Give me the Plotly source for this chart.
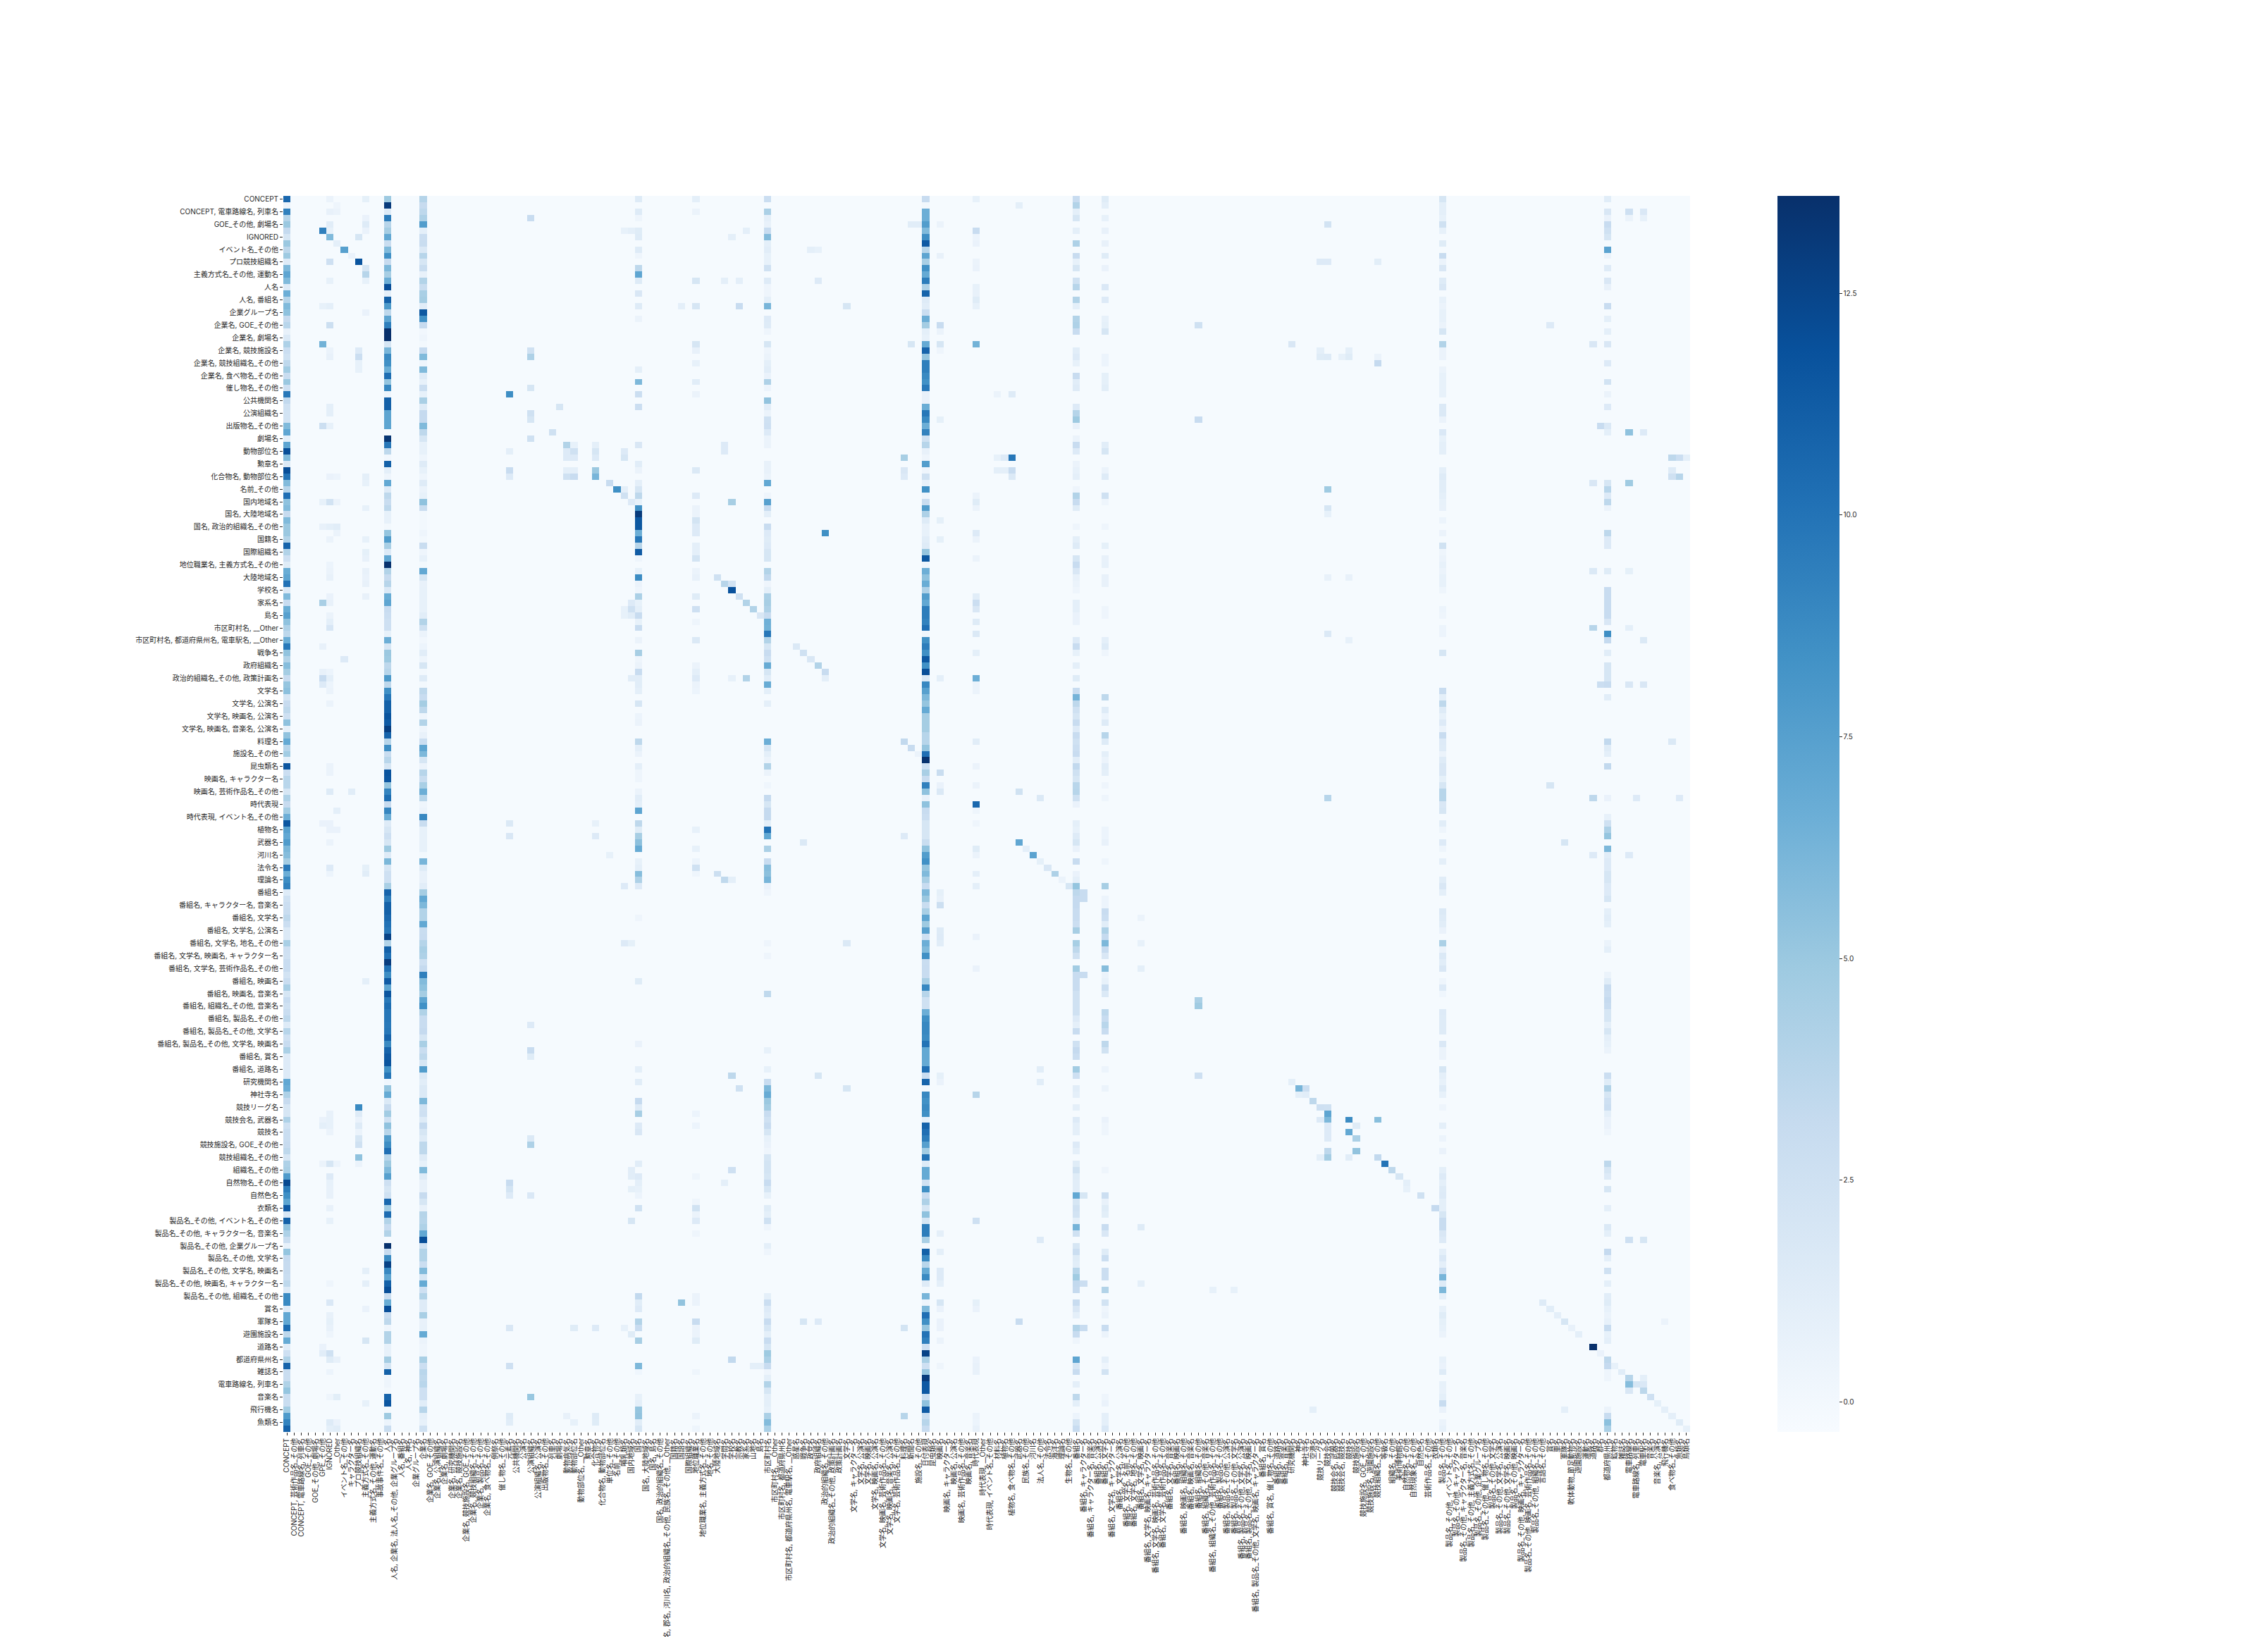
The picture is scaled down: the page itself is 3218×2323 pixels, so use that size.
import plotly.graph_objects as go

categories = [
"CONCEPT","CONCEPT, 芸術作品名_その他","CONCEPT, 電車路線名, 列車名","GOE_その他","GOE_その他, 劇場名","GPE_その他","IGNORED","__Other","イベント名_その他","キャラクター名",
"プロ競技組織名","主義方式名_その他","主義方式名_その他, 運動名","事故事件名_その他","人名","人名, 企業名, 法人名_その他, 企業グループ名","人名, 番組名","人名, 神名","企業グループ名","企業名",
"企業名, GOE_その他","企業名, 公演組織名","企業名, 劇場名","企業名, 研究機関名","企業名, 競技施設名","企業名, 競技施設名, GOE_その他","企業名, 競技組織名_その他","企業名, 製品名_その他","企業名, 食べ物名_その他","例祭名",
"催し物名_その他","元素名","公共機関名","公演名","公演組織名","公演組織名, 公演名","出版物名_その他","列車名","劇場名","動物病気名",
"動物部位名","動物部位名, __Other","勲章名","化合物名","化合物名, 動物部位名","単位名_その他","名前_その他","哺乳類名","国内地域名","国名",
"国名, 大陸地域名","国名, 島名","国名, 政治的組織名_その他","国名, 郡名, 河川名, 政治的組織名_その他, 民族名_その他, __Other","国籍名","国語名","国際組織名","地位職業名","地位職業名, 主義方式名_その他","地名_その他",
"大陸地域名","学問名","学校名","宗教名","家系名","山地名","島名","市区町村名","市区町村名, __Other","市区町村名, 都道府県州名",
"市区町村名, 都道府県州名, 電車駅名, __Other","惑星名","戦争名","政党名","政府組織名","政治的組織名_その他","政治的組織名_その他, 政策計画名","政策計画名","文学名","文学名, キャラクター名",
"文学名, 公演名","文学名, 映画名","文学名, 映画名, 公演名","文学名, 映画名, 芸術作品名_その他","文学名, 映画名, 音楽名, 公演名","文学名, 芸術作品名_その他","料理名","新聞名","施設名_その他","日付表現",
"昆虫類名","映画名","映画名, キャラクター名","映画名, 公演名","映画名, 芸術作品名_その他","映画名, 音楽名","時代表現","時代表現, __Other","時代表現, イベント名_その他","材料名",
"植物名","植物名, 食べ物名_その他","武器名","民族名_その他","河川名","法人名_その他","法令名","海洋名","理論名","生物名_その他",
"番組名","番組名, キャラクター名","番組名, キャラクター名, 音楽名","番組名, 公演名","番組名, 文学名","番組名, 文学名, キャラクター名","番組名, 文学名, 公演名","番組名, 文学名, 名前_その他","番組名, 文学名, 地名_その他","番組名, 文学名, 映画名",
"番組名, 文学名, 映画名, キャラクター名","番組名, 文学名, 映画名, 芸術作品名_その他","番組名, 文学名, 芸術作品名_その他","番組名, 文学名, 音楽名","番組名, 映画名","番組名, 映画名, 組織名_その他","番組名, 映画名, 音楽名","番組名, 組織名_その他","番組名, 組織名_その他, 音楽名","番組名, 組織名_その他, 芸術作品名_その他",
"番組名, 製品名_その他","番組名, 製品名_その他, 公演名","番組名, 製品名_その他, 文学名","番組名, 製品名_その他, 文学名, 公演名","番組名, 製品名_その他, 文学名, 映画名","番組名, 製品名_その他, 文学名, 映画名, キャラクター名","番組名, 賞名","番組名, 賞名, 催し物名_その他","番組名, 道路名","番組名, 音楽名",
"研究機関名","神名","神社寺名","空港名","競技リーグ名","競技会名","競技会名, 武器名","競技会名, 競技名","競技名","競技施設名",
"競技施設名, GOE_その他","競技施設名, 遊園施設名","競技組織名_その他","等級名","組織名_その他","美術博物館名","自然物名_その他","自然現象名_その他","自然色名","芸術作品名_その他",
"衣類名","製品名_その他","製品名_その他, イベント名_その他","製品名_その他, キャラクター名","製品名_その他, キャラクター名, 音楽名","製品名_その他, 主義方式名_その他","製品名_その他, 企業グループ名","製品名_その他, 催し物名_その他","製品名_その他, 文学名","製品名_その他, 文学名, 公演名",
"製品名_その他, 文学名, 映画名","製品名_その他, 映画名","製品名_その他, 映画名, キャラクター名","製品名_その他, 映画名, 芸術作品名_その他","製品名_その他, 組織名_その他","言語名_その他","賞名","車名","軍隊名","軟体動物_節足動物名",
"遊園施設名","運動名","道路名","郡名","都道府県州名","鉱物名","雑誌名","電車路線名","電車路線名, 列車名","電車駅名",
"音楽名","音楽名, 公演名","飛行機名","食べ物名_その他","魚類名","鳥類名"]

col_0 = [10.6,0.5,9.3,3.9,5.0,3.2,2.0,5.0,3.6,4.9,1.4,6.0,7.2,5.9,1.4,6.6,3.9,5.9,5.4,3.1,
3.7,0.7,1.6,4.2,2.8,2.4,3.5,4.7,2.9,5.0,2.6,9.8,3.3,2.5,2.3,2.3,5.9,7.1,1.0,7.2,
12.0,5.9,1.6,12.0,10.0,5.8,3.8,10.2,5.4,5.8,3.1,5.9,5.0,5.0,4.0,10.8,4.0,2.6,1.3,6.7,
7.2,10.1,1.6,5.9,3.0,6.7,7.5,5.4,4.2,3.5,6.6,9.7,5.3,4.0,5.7,4.6,3.1,5.2,5.5,2.0,
3.1,3.5,2.6,5.4,0.9,5.3,6.9,3.8,4.7,1.0,11.6,2.8,3.7,3.7,2.0,4.2,3.1,4.7,6.6,11.6,
7.5,7.0,7.8,6.1,5.7,4.6,9.7,6.6,8.6,9.2,1.4,2.5,2.8,2.9,3.5,2.8,1.6,1.6,4.4,2.6,
2.5,3.0,3.0,2.3,2.9,4.4,2.0,3.0,2.5,2.9,3.5,1.4,3.8,2.5,3.0,4.3,1.5,1.5,1.5,1.5,
7.0,6.6,4.2,3.1,2.0,2.0,4.2,2.5,2.9,2.9,3.1,3.5,2.0,4.2,4.4,7.8,12.3,9.5,8.5,7.2,
11.4,1.8,11.0,5.3,4.2,2.9,0.8,5.2,3.2,3.1,3.1,2.9,3.5,1.6,8.8,8.8,1.4,7.0,7.0,10.3,
3.5,6.9,1.2,2.6,4.2,10.8,2.9,2.9,4.1,5.2,2.9,2.9,4.7,7.8,9.1,10.9]

col_14 = [4.9,13,1.4,9.5,3.8,4.6,7,2.9,5.9,8.4,3.1,6,4.5,6.6,12,1,11,7.9,3.5,7.2,
9.4,13.6,13.6,2,6.2,8.8,8.5,6.7,10.3,5.2,8.9,.3,11,11,7.2,7.2,7.2,-.2,13.3,9.8,
3.5,.1,11,1,.3,7,1.4,3.5,2.9,3.5,.8,.8,0,5.2,7.7,4.4,1.5,7,13.5,4,
3.1,3.8,1.6,6.7,7.2,3,2.8,2.6,2.6,.8,6.6,2,5,4.9,3.5,3.8,7.9,3.5,8.5,9.8,
11,11,11.7,11.3,12.8,10.8,3.8,8.6,2.9,3.7,2,11.7,11.6,5.2,9.1,10.3,3.1,9,6.6,1.4,
2,2.6,2,4.9,1.4,6.1,2,2.6,2.6,4.4,10.8,9.5,11,11,10.6,10.1,9.8,12.6,4,11,
10.1,12.9,10.1,8.6,11.3,7.2,11.6,9.7,10.3,9.8,9.8,9.7,9.8,10.8,8.8,10.8,11.4,11.7,8.4,9.8,
.2,5.2,6.9,1.6,3.1,4.7,2.5,5.4,3.8,7.7,8.6,10.2,3.8,4.9,5.9,7.5,2.6,2,2.5,10.6,
4.7,10.4,4,3,4,-.2,13.5,3.1,8.7,12.6,8.9,7.2,11,12,2.9,6.7,12,3,3.5,.3,
4,4,.8,.8,4.6,2,11,.3,.3,0,10.8,11.6,0,4.9,.4,2.9]

col_19 = [3.9,3.1,3.5,4.2,7.7,1,2.8,2.9,1.6,3.8,2,2.9,.7,4,2.9,4.4,4.6,1.2,11.5,8.4,
3.1,.1,.3,0,3.2,5.9,.3,5.9,1.4,.8,2.8,.8,4.4,1.4,3.2,3.2,5.9,3.5,2,.8,
.8,.3,1.4,.8,.3,1.4,.5,.8,5.4,2.9,0,0,0,.3,0,2.9,.3,.8,0,7,
2,.7,.8,.8,.8,.8,1.2,4,2.5,.5,.1,.4,1.2,.3,2,0,1.4,0,3.5,3,
4.6,3.5,.3,4,.3,.7,2.8,7.2,6,2,.5,3.8,2.9,4.4,6.6,3.8,.3,.5,8.9,2.9,
.8,.8,.8,.8,0,6.2,1.4,.7,.7,1.2,4.6,7,6,4,4,7,2.9,3,3.9,4.4,
4.2,2.6,3.2,9.4,5.8,5.4,4.6,7.2,8.4,4.1,3,3,3.2,2,4.4,2.9,3.5,2,7.7,1.6,
1.2,1.6,1.6,6,2.5,2.6,1.4,3.2,2,1.4,3.5,3.5,1.4,.8,5.9,1.4,.7,.7,3.1,2,
.7,3.9,3.8,4.2,7,12,2.5,4,4,2.8,5.9,2,6.9,2.6,4,1.4,1.4,4.4,.7,.8,
6.9,.5,.3,.3,4.4,2.8,3.7,3.5,3.7,2.6,2.6,1.2,3.8,1,.8,2.5]

col_89 = [3,0,6.6,6.6,7.7,5.9,8.6,11.4,3.8,7.2,4.4,8.4,6.9,9.5,4.1,10.8,1.4,1.2,2.8,6.6,
4.6,1,.8,6.9,10.8,5.2,9.4,9.4,8.8,8.4,9.7,.7,.7,6.7,9.8,8.8,6.6,9.2,2.5,3.8,
.7,.3,7.7,.3,2.5,.7,8.4,.3,2.9,7.7,4.2,1.4,.7,.8,1.2,1.4,5.2,11.5,.3,6.6,
5.4,6.7,4.2,7.7,7,9.5,9.5,9.2,10.2,.3,8.5,9.5,8.5,11.5,8.4,12,1.6,8.9,7.5,6,
5.2,6.9,4.6,4.6,4.6,3.8,3.8,5.2,10.2,13.5,2.6,4.4,3,9.3,5.4,.7,5.4,3,2.8,2,
2,2,2.9,5.4,7.7,8.4,5.2,5.9,4.4,3,6,5,2.9,4.4,7.2,4.9,7.5,2.6,6.6,5.9,
8.5,2.9,3,3,4.4,8.9,3.8,2.5,2.5,6.6,8.5,8.9,8.9,8.7,10,7,7,6.9,10.2,2.8,
10.8,0,8.9,8.4,8.8,8.5,.8,10.9,10.2,9.5,7.5,4.7,10,1.4,6.9,6.9,2.5,8.5,3,4.2,
2,5.4,2,9.5,9.5,4.4,0,11,8.8,3.7,6.9,8.8,1.4,0,6.2,.3,5.9,10.2,8.5,5.2,
10,9.3,2.6,12.6,4.4,2.6,5.2,13,11.4,11.4,2.9,5.4,11.3,2.9,3.8,3]

# (row, value) pairs
col_49 = [(0,1.4),(2,1.4),(3,.3),(5,1.3),(6,1.4),(8,1.4),(9,.3),(11,3.5),(12,7.2),(13,1.4),(15,1.8),(17,1.4),(19,.5),(27,1),(29,6),(31,2.8),(33,2.8),(39,1.8),(42,1.2),(43,.5),(45,1),(46,2),(47,3.5),(48,.8),(49,8.4),(50,13),(51,11.5),(52,11.5),(53,6.6),(54,9.8),(55,3.8),(56,11.3),(57,.3),(59,.8),(60,8.7),(61,.5),(62,.3),(63,4.3),(64,.8),(65,1),(66,3),(67,.8),(68,3),(70,.5),(72,4.5),(73,.3),(74,.5),(75,3),(76,1.2),(77,1.2),(78,1),(80,2),(82,.4),(83,.5),(86,3.5),(87,1),(88,.5),(90,1),(91,.3),(92,.3),(94,.5),(95,1.2),(96,1),(97,7.2),(99,3.5),(100,1.3),(101,4.5),(102,5.5),(103,6.8),(105,.8),(106,1),(107,5.7),(108,4.2),(109,1.5),(114,.3),(124,1.3),(134,.6),(138,1),(140,1.2),(143,3.2),(144,1.4),(145,4.5),(147,1.5),(148,1.8),(153,1.2),(155,1.5),(156,1),(157,.8),(158,.4),(160,2.5),(174,3.3),(175,1.2),(176,1.5),(178,4),(179,3),(181,4.5),(185,6),(186,.2),(190,.8),(191,1),(192,5.2),(193,5.3),(194,1.2),(195,2)]
col_57 = [(0,1),(2,.5),(13,2),(17,2),(23,2),(24,.7),(26,.8),(29,1.2),(31,.5),(43,1.6),(47,1.5),(49,.5),(50,.5),(51,2.2),(52,1.5),(53,1.5),(55,1),(56,1),(57,2.2),(59,.5),(60,.7),(63,1.3),(65,2.6),(67,.3),(70,1.6),(74,.5),(75,1),(76,1.5),(77,.5),(78,.4),(100,.8),(103,.8),(105,.4),(106,2.5),(107,.3),(145,.4),(147,.4),(155,.3),(159,.3),(160,2.4),(161,.5),(162,1.5),(164,.3),(174,.5),(175,.5),(178,3),(179,.5),(180,.5),(181,1.3),(186,.3),(193,.5),(195,.3)]
col_67 = [(0,2.8),(2,4.3),(3,1),(4,.7),(5,3),(6,5.8),(7,1),(8,1.2),(9,.8),(10,.8),(11,2.5),(13,1.4),(14,.3),(15,.3),(16,1),(17,6.2),(19,1.5),(20,1.4),(21,.3),(23,2),(24,.3),(25,.5),(26,1),(27,1.2),(28,.6),(29,4.2),(30,.4),(32,5.3),(33,1.2),(34,.5),(35,2.5),(36,2.6),(37,1.5),(38,.5),(39,.5),(42,.7),(43,.7),(44,.5),(45,7),(47,.3),(48,7.5),(49,3),(50,1),(52,3),(53,1.5),(54,1.3),(55,1.5),(56,2),(57,2),(59,4),(60,3.3),(61,.3),(62,1),(63,4.3),(64,4.5),(65,4.2),(66,3),(67,6.5),(68,6.4),(69,9.8),(70,4),(71,2),(72,3),(73,2.5),(74,6.8),(75,2),(76,1.2),(77,6.8),(78,1),(80,1),(86,6.6),(87,2),(88,1),(89,.5),(90,4),(91,.5),(93,.2),(95,3.2),(96,2),(97,3.2),(98,3.2),(99,1),(100,10),(101,7),(103,4.3),(105,3),(106,5.7),(107,5.5),(108,6.2),(109,.6),(110,.3),(118,.3),(120,.3),(126,3.4),(135,.8),(138,.8),(140,3),(141,6),(142,6.8),(143,5),(144,4.6),(145,3),(146,2.5),(147,3),(148,2),(149,.8),(150,.6),(151,.3),(152,2),(153,2.2),(154,2.2),(155,2),(156,3),(157,2),(158,.8),(160,1.3),(161,1),(162,2.5),(163,.3),(166,1),(167,.3),(174,1),(175,2.8),(176,1.5),(177,1.2),(178,3),(179,2),(180,1),(181,3),(182,2),(183,4.9),(184,4.3),(185,3),(186,.3),(187,1),(188,4),(189,2),(190,1),(191,1),(192,.8),(193,4.3),(194,5.8),(195,4.3)]
col_110 = [(0,3),(1,4),(2,1),(3,2),(5,1),(7,4.2),(9,3),(10,.8),(11,2),(13,2.5),(14,3.8),(16,4),(17,1),(19,4),(20,4.2),(21,3),(24,1.2),(25,1.5),(26,.8),(28,3),(29,1.2),(30,1.4),(33,1.5),(34,3.9),(35,4.9),(36,.7),(38,.5),(39,3),(40,1.5),(42,.5),(43,.8),(44,1),(46,.3),(47,4),(48,3),(49,1.3),(52,.3),(54,1),(55,1.4),(57,2),(58,3),(59,1.8),(60,.7),(61,.5),(62,.3),(64,1),(65,1),(66,.6),(67,.6),(70,1.5),(71,3),(72,.8),(74,1),(76,1.3),(78,3),(79,6.3),(80,3.5),(81,2.5),(82,2),(83,3),(84,1.5),(85,3),(86,2.5),(87,2.8),(88,3),(89,1.2),(90,3.3),(91,2.5),(92,2),(93,3.7),(94,3.8),(95,2.5),(96,.6),(99,1),(100,.8),(101,1.4),(102,2),(103,.6),(105,3),(107,.6),(108,1),(109,5.2),(110,3.5),(111,3.2),(112,3.2),(113,3),(114,3),(115,2.8),(116,4.5),(118,4.5),(119,3.5),(120,2.5),(122,4.7),(123,3),(124,3),(125,3),(126,2.5),(127,2.5),(128,2.5),(129,2.5),(130,1.5),(131,1),(132,3),(134,2.5),(135,3.2),(136,2.8),(138,4.7),(139,2.6),(141,1.2),(142,1),(144,1),(146,1.5),(147,1),(148,1),(150,1.5),(151,1),(153,1.3),(154,2.4),(155,1.3),(156,1.2),(157,1.2),(158,7),(159,2),(160,2.5),(161,2.3),(162,1),(163,6.3),(164,2.5),(166,2),(167,2.8),(168,1.3),(169,1.2),(170,3.8),(171,4.8),(172,3.3),(173,3.2),(175,3),(176,1.8),(177,1),(179,4),(180,3),(181,.3),(184,7.2),(185,2),(186,3),(188,1),(190,3.5),(191,1),(193,.4),(194,2.2),(195,3)]
col_114 = [(0,1.3),(1,1),(3,.8),(5,.7),(7,.7),(9,1.3),(11,.6),(14,1.7),(16,1.5),(19,.8),(20,.9),(21,2),(25,.4),(26,.4),(28,.9),(29,.9),(30,1.1),(39,1.2),(40,2),(43,.5),(44,1.4),(47,2.5),(48,.3),(52,.3),(55,.9),(57,.7),(58,.8),(60,.7),(61,.7),(65,.3),(66,.3),(70,1),(71,1.4),(72,.3),(79,3.5),(81,1.4),(82,.4),(83,1.4),(85,3.8),(86,1.4),(88,1),(89,.5),(90,1.2),(91,1),(93,.3),(95,.3),(100,.4),(101,.4),(102,.7),(105,.3),(109,4.5),(111,.4),(112,.4),(113,3),(114,2.8),(115,1.2),(116,4.2),(117,3.2),(118,6),(119,3),(120,1.8),(122,5.7),(123,.5),(124,.8),(125,2.8),(126,1.6),(129,3.5),(130,3),(131,3.7),(132,3),(134,3.5),(135,2.4),(138,.4),(141,.5),(146,.6),(147,.3),(148,.3),(154,.3),(158,2.8),(159,.7),(160,1.3),(161,1.1),(163,3),(164,1.8),(167,1.3),(168,2.8),(170,2.8),(171,2.8),(173,4),(175,2.3),(176,.3),(177,.5),(179,3),(180,.5),(184,1),(185,.3),(186,2.3),(190,.3),(191,.6),(193,1),(194,1),(195,1.7)]
col_161 = [(0,2),(1,1),(2,1),(3,.8),(4,2.5),(5,.8),(7,1.3),(9,3),(10,.5),(11,1.8),(13,1.4),(14,1.8),(16,.8),(17,.5),(18,.8),(19,.8),(20,.5),(21,2),(23,4),(24,.5),(25,.5),(27,.5),(28,.8),(29,.8),(30,.8),(31,.8),(33,1.6),(34,1.6),(35,.5),(37,1.7),(38,.8),(39,1),(40,1),(43,1),(44,1.4),(45,1.2),(46,1.2),(47,1),(48,.8),(49,.7),(51,.4),(53,.5),(55,2.4),(56,.3),(57,.5),(58,.8),(59,.5),(60,.8),(61,.8),(62,.3),(65,.4),(66,.3),(68,.4),(69,.4),(72,2),(78,3),(79,1),(80,3.5),(81,1.4),(82,.8),(83,1.5),(84,.5),(85,3),(86,1.5),(87,1.4),(88,.5),(89,1.4),(90,1.8),(91,1.8),(92,.9),(93,2),(94,3.8),(95,3.8),(96,1.8),(97,2),(99,1.2),(100,.3),(102,1.5),(103,.3),(105,1),(108,1.2),(109,1.8),(110,1),(113,1.6),(114,1.4),(115,1.2),(116,.6),(118,4.3),(119,.5),(120,1.6),(121,1.2),(122,1.8),(124,.3),(125,1.5),(126,.2),(129,1.5),(130,1.4),(131,1.4),(132,1.4),(134,1.7),(135,.5),(136,.5),(138,2),(139,1),(140,.8),(141,1.4),(142,.8),(144,.3),(147,1),(149,.4),(151,.6),(154,1),(155,1.5),(156,1),(157,1.4),(158,1.5),(159,1),(160,1),(161,2),(162,3),(163,3),(164,1.8),(165,1.5),(167,1),(168,1.7),(169,1),(170,2.8),(171,6.2),(172,1.4),(173,6),(174,1),(176,.8),(177,1.3),(178,.9),(179,.8),(180,.5),(184,.8),(185,.6),(186,1.4),(188,.8),(189,.7),(190,1),(191,3),(192,.6),(194,.5),(195,.8)]
col_184 = [(0,1.2),(2,1.8),(3,.6),(4,3),(5,2.5),(6,2),(8,7.3),(9,.5),(11,1.4),(13,1.8),(14,.7),(17,3),(19,1),(21,1),(23,1.8),(26,1.5),(29,2.3),(31,.5),(33,1.5),(36,1.6),(37,1),(45,2),(46,3.7),(47,1.5),(48,3.5),(49,.5),(53,3.5),(54,1.5),(55,1.5),(59,1.3),(62,3),(63,3),(64,3),(65,3),(66,3),(67,1.8),(69,8.6),(70,3.2),(72,1.2),(74,2),(75,2),(76,2),(77,3),(79,1.2),(86,3.3),(87,1.3),(88,1),(90,3.3),(95,.6),(98,.8),(99,2.5),(100,4.2),(101,5.2),(103,6),(104,1.2),(105,1.5),(106,1.5),(107,2),(108,2),(109,1.5),(110,1.5),(111,2),(113,1),(114,1.2),(115,1),(118,.5),(119,1),(123,.5),(124,1.3),(125,3),(126,2.8),(127,3.2),(128,3),(129,2),(130,2),(131,1),(132,2),(133,1),(134,.8),(135,.5),(139,2.8),(140,1.3),(141,4),(142,2),(143,2.6),(144,2.8),(145,1),(146,.6),(147,.6),(148,.3),(153,3.5),(154,2),(155,1.5),(157,2),(160,1),(163,1.6),(164,1),(167,3.2),(168,1),(170,2.5),(172,1),(174,1.2),(175,1.3),(176,.8),(177,.5),(178,.8),(179,3),(180,.8),(181,1),(184,3.5),(185,3.2),(186,.3),(187,.3),(192,.5),(193,3),(194,5.5),(195,4.3)]
col_6 = [(0,.5),(2,.7),(4,1.2),(5,.8),(6,5.9),(10,2.6),(13,.8),(17,1),(20,2.7),(24,.5),(25,.7),(33,1),(34,1),(36,.8),(44,.6),(48,2.3),(52,1),(54,.5),(58,.4),(59,.5),(60,.7),(63,.6),(64,.7),(66,.5),(67,1),(68,1.9),(75,.4),(76,1),(77,.4),(78,.5),(80,.5),(90,.5),(91,.5),(94,1.4),(99,.6),(100,.6),(102,.5),(106,1.5),(107,.4),(145,.7),(146,.8),(147,.8),(148,.5),(153,2),(155,1.5),(156,.8),(157,.7),(158,.7),(160,.7),(162,.8),(172,.3),(175,1.7),(177,.7),(178,.9),(179,.7),(180,.3),(183,2.5),(184,1.3),(186,.4),(190,.3),(194,1.4),(195,1)]
col_96 = [(0,.8),(5,3),(6,.4),(7,.6),(10,.5),(11,.6),(14,.8),(15,.7),(16,1.3),(17,.8),(23,6.4),(47,.5),(48,1.3),(49,.5),(53,1.5),(54,.5),(57,.5),(63,1.2),(64,2.8),(65,1.8),(67,1.4),(69,1.6),(72,1),(76,6.6),(77,.5),(78,.5),(86,1.2),(90,.5),(93,.5),(96,10.6),(97,.3),(99,.3),(103,1.3),(104,.5),(107,1),(109,1),(117,.6),(122,.6),(142,3.8),(162,2.6),(175,.9),(176,.6),(184,.6),(185,.7),(186,.7),(193,.5),(194,.4),(195,.7)]
col_91 = [(4,.5),(9,.7),(20,3),(21,.5),(23,2),(24,.3),(35,.9),(51,.9),(54,.9),(76,1),(91,2.9),(93,.6),(94,1.6),(110,.9),(111,.7),(112,2.7),(116,1.4),(117,1.5),(118,1.2),(139,.9),(140,.6),(164,1),(167,1),(170,1.5),(171,1.5),(172,1),(175,2),(176,.6),(178,.6),(179,.6),(181,.5),(185,.3)]
col_11 = [(0,.9),(3,.6),(4,1.4),(5,.6),(11,2),(12,3.8),(13,.8),(18,.6),(44,1),(45,.8),(49,.8),(54,.8),(56,.9),(57,.7),(59,.7),(60,.6),(61,.7),(63,.7),(106,.9),(107,1.2),(124,1),(170,1),(172,1),(176,.6),(181,2),(191,.8)]

# other individually visible cells: (row, column, value)
cells_left = [(5,5,9.3),(23,5,6.4),(48,5,.8),(17,5,.8),(36,5,2.7),(52,5,.7),(71,5,.7),(75,5,.7),(76,5,3),(77,5,1.5),(99,5,.6),(146,5,.6),(147,5,1),(153,5,.5),(182,5,.6),(183,5,1.2),(64,5,4.4),
(7,7,1),(1,7,.3),(2,7,.5),(44,7,.4),(48,7,.5),(52,7,1.2),(53,7,.5),(100,7,.6),(153,7,.4),(184,7,.7),(190,7,1.1),(194,7,.6),(195,7,1.2),(97,7,1),
(8,8,7.5),(73,8,1.5),(9,9,.6),(94,9,1.2),
(10,10,11.7),(6,10,2),(24,10,1.5),(25,10,2.8),(26,10,.8),(27,10,.8),(144,10,8.8),(145,10,1.4),(146,10,.6),(147,10,1.4),(148,10,.5),(149,10,2),(150,10,2.5),(152,10,5.4),(153,10,.5)]
cells_middle = [(31,31,8.6),(30,34,2),(3,34,3),(24,34,2.5),(25,34,4.2),(34,34,2.5),(35,34,2),(38,34,2.5),(33,38,2),(37,37,2.5),(39,39,4),(39,40,.8),(40,39,1.5),(40,40,2.5),(41,39,1.5),(41,40,1.5),(39,43,1),(40,43,2),(41,43,1.5),(40,47,1.5),(41,47,2),(40,31,1),(43,31,3),(44,31,1.5),(44,39,2.5),(44,40,3),(43,43,5),(44,43,6.2),(43,39,1),(43,40,1),(45,45,3),(46,46,8.5),(46,47,1),(47,47,2.5),(48,48,1.5),(48,62,4.5),(41,86,4.5),(43,86,1.8),(44,86,1.5),(39,61,1.5),(40,61,1.5),(53,75,8.5),(17,63,3),(17,78,2),(17,55,1),(13,61,1),(13,63,1),(13,74,1.5),
(76,64,4),(76,62,.8),(76,75,1),(5,64,1),(6,62,1),(8,73,1),(8,74,.8),(4,87,1.2),(4,88,1.2),(23,87,2),(86,86,3.3),(87,87,3),(88,88,.5),
(60,60,2.5),(61,61,3.8),(61,62,2.3),(62,62,11.8),(63,63,2.5),(64,64,4),(65,65,4),(66,66,1.8),(71,71,1.6),(72,72,2.5),(73,73,1.8),(74,74,4),(75,75,3),
(99,31,1.6),(101,31,1.8),(99,43,.8),(101,43,1.5),(101,86,1.5),(102,72,1.6),(131,34,1.5),(135,34,3),(136,34,1.3),(104,45,.8),(109,47,1.5),(118,47,1.5),(118,48,.9),(118,78,1.6),(175,55,5.3),(190,34,5.1),(149,34,1.6),(150,34,4.2),(139,62,3.5),(139,74,2),(141,63,2.5),(141,78,2),(107,60,2.7),(108,61,3.4),(108,62,1),(162,48,2),(156,31,3),(157,31,2.2),(158,31,1.5),(158,34,1.7),(178,72,2),(178,74,1.5),(179,31,1.8),(179,40,1.3),(179,43,1.5),(179,86,2.2),(185,31,2.6),(184,62,3.3),(154,62,2.6),(156,61,1),(193,86,3.8),(185,65,1),(185,66,1),(193,31,1.4),(194,31,1.2),(193,43,1.4),(194,43,1.3),(194,40,.8),(193,39,.7),
(154,48,1.2),(155,48,1.2),(157,48,.9),(179,47,.8),(180,48,1.3),(5,47,.8),(5,48,1),(64,48,1.5),(65,48,2.5),(65,47,.8),(66,47,.8),(66,48,1.2),(76,48,1.2)]
cells_right_top = [(41,101,9.8),(41,100,1.5),(41,99,.8),(43,101,3),(44,101,1.6),(43,100,1),(43,99,1),(31,101,1.4),(31,99,.5),(1,102,1),(20,127,2.5),(35,127,3),(20,176,1.5),(23,140,1.8),(26,152,3.2),(23,182,1.8),(4,145,2.3),(10,145,1.5),(10,144,1.5),(10,152,1.1),(24,144,1),(25,144,1.3),(25,145,1.4),(24,148,1),(25,148,1.3),(25,147,.8),(25,152,.5),(46,145,4.8),(49,145,2),(50,145,.8),(45,187,4.8),(45,182,1.8),(37,187,5.4),(37,189,1.5),(36,183,3),(2,187,2.6),(2,189,1.7),(3,187,.5),(3,189,.8),(68,182,3.8),(68,187,1),(70,189,1.6),(69,145,1.6),(70,148,.8),(59,182,1.6),(59,187,.9),(60,145,.7),(60,148,.7),(77,183,2.8),(77,187,1.8),(77,189,1.8),(93,176,2),(95,145,3.8),(95,182,3.5),(95,188,1.5),(95,194,1.5),(95,105,1.6),(94,102,2.4),(41,193,3.5),(41,194,2.8),(41,195,1),(43,193,1.4),(44,193,2.5),(44,194,3.8),(86,193,1.6)]
cells_right_bottom = [(102,102,7.1),(103,103,1),(104,104,7.3),(105,105,.9),(106,106,1.8),(107,107,4.2),(108,108,.5),(109,109,2),(102,178,2),(104,182,1.5),(104,187,1.5),(127,127,4.3),(128,127,4.8),(139,127,2.6),(138,105,1.2),(140,105,1.2),(140,140,1),(141,141,6.2),(141,142,2.8),(142,141,1),(142,142,1.2),(143,143,3.5),(144,144,2.6),(144,145,2.5),(145,145,7.2),(146,144,1.5),(146,145,6),(146,148,8.7),(146,152,5.6),(147,145,1.5),(147,149,1.3),(148,148,7),(148,145,1.5),(149,149,4.3),(149,145,1.5),(151,145,3.5),(151,149,5.3),(152,145,4.6),(152,144,1),(152,148,1.2),(152,152,3.3),(153,153,10),(154,154,3.5),(155,155,2),(156,156,1),(157,156,.8),(158,158,2.5),(160,160,3.2),(175,175,1.4),(176,176,1.2),(177,177,1),(178,178,2),(179,179,.7),(180,180,1),(182,182,13.6),(183,183,.6),(185,185,.8),(186,186,1.2),(187,187,3.8),(188,187,5.7),(188,188,2),(188,189,1.7),(187,189,1),(189,187,1.8),(189,189,3.6),(190,190,2.6),(191,191,.9),(192,192,1),(193,193,1),(194,194,1.3),(195,195,.8),(192,143,1),(192,178,1),(178,102,3),(165,105,1.5),(165,187,2.6),(165,189,2),(172,111,2.8),(110,111,3),(111,111,3),(123,111,3),(179,111,3),(158,111,2),(163,119,1.4),(172,119,1),(173,129,.8),(173,132,.8),(178,192,.5),(114,119,.5),(118,119,.8),(122,119,1)]

base_value = -0.2
ZMIN, ZMAX = -0.34, 13.6

n = len(categories)
z = [[base_value] * n for _ in range(n)]
for c, values in ((0, col_0), (14, col_14), (19, col_19), (89, col_89)):
    for r, v in enumerate(values):
        z[r][c] = v
for c, pairs in ((49, col_49), (57, col_57), (67, col_67), (110, col_110), (114, col_114),
                 (161, col_161), (184, col_184), (6, col_6), (96, col_96), (91, col_91), (11, col_11)):
    for r, v in pairs:
        z[r][c] = v
for group in (cells_left, cells_middle, cells_right_top, cells_right_bottom):
    for r, c, v in group:
        z[r][c] = v

blues = ["#f7fbff", "#deebf7", "#c6dbef", "#9ecae1", "#6baed6", "#4292c6", "#2171b5", "#08519c", "#08306b"]
colorscale = [[i / 8, col] for i, col in enumerate(blues)]
idx = list(range(n))
font = "Inter, Noto Sans CJK JP, sans-serif"

fig = go.Figure(go.Heatmap(
    z=z, x=idx, y=idx, zmin=ZMIN, zmax=ZMAX, colorscale=colorscale,
    colorbar=dict(
        thickness=88, thicknessmode="pixels", len=1754, lenmode="pixels",
        x=(2522 - 402) / 1996, xanchor="left", xpad=0, y=0.5, yanchor="middle", ypad=0,
        outlinewidth=0, tickmode="array", tickvals=[0, 2.5, 5, 7.5, 10, 12.5],
        ticktext=["0.0", "2.5", "5.0", "7.5", "10.0", "12.5"], ticks="outside", ticklen=4,
        tickwidth=1, tickcolor="#262626", tickfont=dict(family=font, size=10, color="#262626"),
    ),
))
fig.update_layout(
    width=3218, height=2323, autosize=False, paper_bgcolor="white", plot_bgcolor="white",
    margin=dict(l=402, r=820, t=278, b=291, pad=0),
    font=dict(family=font, size=10, color="#262626"),
    xaxis=dict(tickmode="array", tickvals=idx, ticktext=categories, tickangle=-90, range=[-0.5, n - 0.5],
               ticks="outside", ticklen=4, tickwidth=1, tickcolor="#262626", automargin=False,
               showgrid=False, zeroline=False, showline=False, tickfont=dict(family=font, size=10, color="#262626")),
    yaxis=dict(tickmode="array", tickvals=idx[::2], ticktext=categories[::2], range=[n - 0.5, -0.5],
               ticks="outside", ticklen=4, tickwidth=1, tickcolor="#262626", automargin=False,
               showgrid=False, zeroline=False, showline=False, tickfont=dict(family=font, size=10, color="#262626")),
)
fig.write_html("out.html", config={"displayModeBar": False}, post_script="document.body.style.margin='0';")
